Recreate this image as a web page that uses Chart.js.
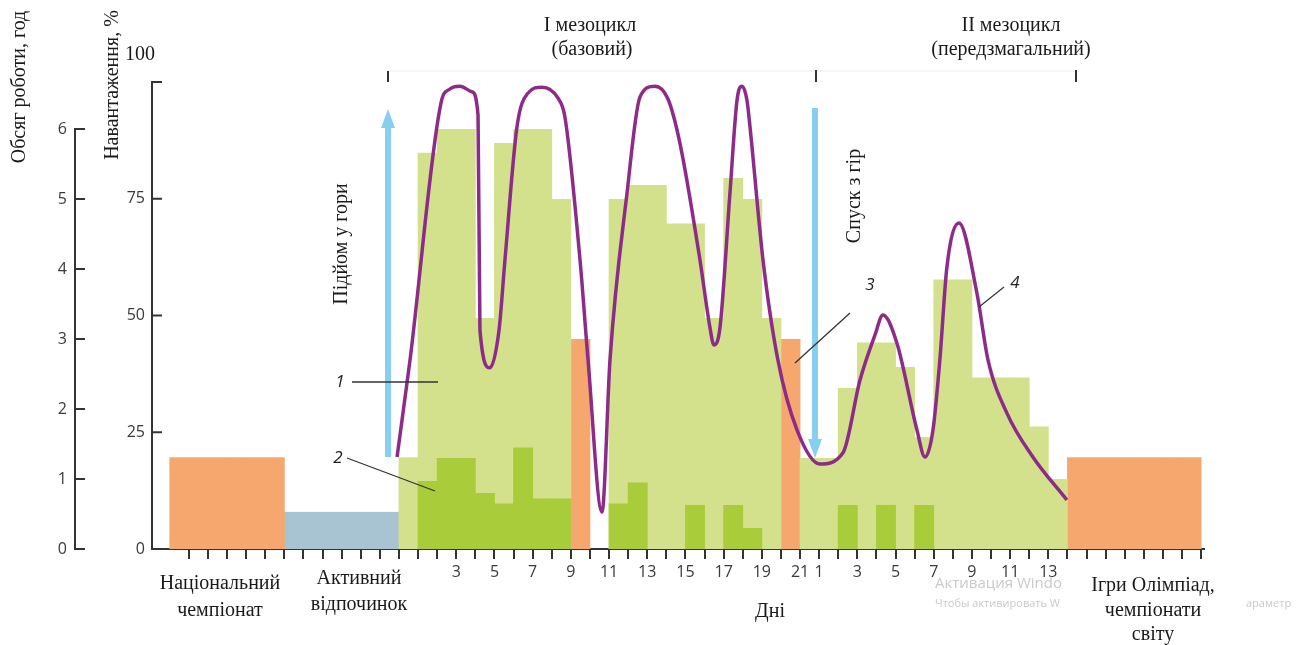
<!DOCTYPE html>
<html lang="uk">
<head>
<meta charset="utf-8">
<title>Мезоцикли підготовки</title>
<script src="https://cdn.jsdelivr.net/npm/chart.js@4.4.1/dist/chart.umd.min.js"></script>
<style>
  html, body { margin: 0; padding: 0; background: #fff; }
  #wrap { position: relative; width: 1307px; height: 645px; }
</style>
</head>
<body>
<div id="wrap"><canvas id="chart"></canvas></div>
<script>
// Slots on the day axis: slot 1..21 = days of mesocycle I, 22..34 = days 1..13 of mesocycle II
// Competitions (orange)
const compDays = [-12, -11, -10, -9, -8, -7, 9, 20, 35, 36, 37, 38, 39, 40, 41];
const compHours = [1.31, 1.31, 1.31, 1.31, 1.31, 1.31, 3.0, 3.0, 1.31, 1.31, 1.31, 1.31, 1.31, 1.31, 1.31];

// Active rest (blue)
const restDays = [-6, -5, -4, -3, -2, -1];
const restHours = [0.53, 0.53, 0.53, 0.53, 0.53, 0.53];

// 1 - total volume of work (light green)
const volumeDays = [0, 1, 2, 3, 4, 5, 6, 7, 8, 11, 12, 13, 14, 15, 16, 17, 18, 19,
  21, 22, 23, 24, 25, 26, 27, 28, 29, 30, 31, 32, 33, 34];
const volumeHours = [1.31, 5.66, 6.0, 6.0, 3.3, 5.8, 6.0, 6.0, 5.0, 5.0, 5.2, 5.2, 4.65, 4.65, 3.3, 5.3, 5.0, 3.3,
  1.3, 1.3, 2.3, 2.95, 2.95, 2.6, 1.6, 3.85, 3.85, 2.45, 2.45, 2.45, 1.75, 1.0];

// 2 - high-intensity work (dark green)
const intenseDays = [1, 2, 3, 4, 5, 6, 7, 8, 11, 12, 15, 17, 18, 23, 25, 27];
const intenseHours = [0.97, 1.3, 1.3, 0.8, 0.65, 1.45, 0.72, 0.72, 0.65, 0.95, 0.63, 0.63, 0.3, 0.63, 0.63, 0.63];

// 4 - load, % (purple curve)
const loadDay = [-0.1, 0.58, 2.2, 2.67, 3.19, 3.82, 4.14, 4.24, 4.76, 5.24, 5.55, 6.18, 6.75, 7.49, 8.32, 8.69,
  9.48, 9.9, 10.63, 11.05, 11.94, 12.62, 13.4, 14.08, 14.71, 15.76, 16.28, 16.49, 16.81, 17.33, 17.7, 17.96,
  18.22, 18.38, 19.06, 19.84, 20.84, 22.04, 23.25, 24.14, 24.92, 25.34, 26.07, 27.12, 27.54, 27.96, 28.32,
  28.69, 29.32, 30.26, 30.84, 31.83, 33.19, 34.97];
const loadPct = [19.7, 40.5, 95.5, 98.5, 99.1, 97.9, 92.9, 46.9, 38.8, 46.9, 61.9, 90.4, 97.6, 98.9, 96.6, 92.5,
  61.9, 40.5, 7.9, 40.5, 76.2, 96.8, 99.1, 96.4, 86.9, 61.9, 47.5, 43.7, 47.5, 76.2, 96.1, 99.1,
  96.1, 90.4, 61.9, 40.5, 25.5, 18.2, 20.6, 36.2, 45.8, 50.1, 44.1, 25.5, 19.7, 25.5, 40.5,
  60.4, 69.8, 54.8, 40.5, 29.1, 19.7, 10.5];

// axis ticks
const hourTicks = [0, 1, 2, 3, 4, 5, 6];
const loadTicks = [0, 25, 50, 75, 100];
const dayTickSlots = [3, 5, 7, 9, 11, 13, 15, 17, 19, 21, 22, 24, 26, 28, 30, 32, 34];
const dayTickText = ['3', '5', '7', '9', '11', '13', '15', '17', '19', '21', '1', '3', '5', '7', '9', '11', '13'];

const toBars = (days, vals) => days.map((d, i) => ({ x: d + 0.5, y: vals[i] }));

const SERIF = '"Liberation Serif", "Times New Roman", serif';
const SANS = '"Open Sans", "Noto Sans", sans-serif';

function text(ctx, str, x, y, font, color, rot) {
  ctx.save();
  ctx.font = font;
  ctx.fillStyle = color || '#1a1a1a';
  ctx.textAlign = 'center';
  ctx.textBaseline = 'middle';
  ctx.translate(x, y);
  if (rot) ctx.rotate(rot);
  ctx.fillText(str, 0, 0);
  ctx.restore();
}

function line(ctx, x1, y1, x2, y2, color, w) {
  ctx.save();
  ctx.strokeStyle = color;
  ctx.lineWidth = w;
  ctx.beginPath();
  ctx.moveTo(x1, y1);
  ctx.lineTo(x2, y2);
  ctx.stroke();
  ctx.restore();
}

function arrow(ctx, x, yFrom, yTo) {
  const dir = yTo < yFrom ? -1 : 1;
  ctx.save();
  ctx.strokeStyle = '#86cfee';
  ctx.fillStyle = '#86cfee';
  ctx.lineWidth = 6;
  ctx.beginPath();
  ctx.moveTo(x, yFrom);
  ctx.lineTo(x, yTo - dir * 16);
  ctx.stroke();
  ctx.beginPath();
  ctx.moveTo(x, yTo);
  ctx.lineTo(x - 7, yTo - dir * 19);
  ctx.lineTo(x + 7, yTo - dir * 19);
  ctx.closePath();
  ctx.fill();
  ctx.restore();
}

// y axis lines and inward tick marks
const axisMarks = {
  id: 'axisMarks',
  afterDraw(chart) {
    const { ctx } = chart;
    const yH = chart.scales.yH;
    const yL = chart.scales.yL;
    const xh = yH.right;
    line(ctx, xh, yH.getPixelForValue(0) + 1, xh, yH.getPixelForValue(6) - 1, '#333', 2);
    hourTicks.forEach(v => {
      const y = yH.getPixelForValue(v);
      line(ctx, xh - 1, y, xh + 10, y, '#333', 2);
    });
    const xl = yL.right;
    loadTicks.forEach(v => {
      const y = yL.getPixelForValue(v);
      line(ctx, xl - 1, y, xl + 10, y, '#333', 2);
    });
  }
};

// texts, arrows and leader lines
const notes = {
  id: 'notes',
  afterDatasetsDraw(chart) {
    const { ctx } = chart;
    const f20 = '20px ' + SERIF;
    text(ctx, 'Обсяг роботи, год', 20, 87, f20, '#1a1a1a', -Math.PI / 2);
    text(ctx, 'Навантаження, %', 113, 85, f20, '#1a1a1a', -Math.PI / 2);
    text(ctx, '100', 140, 55, f20);

    text(ctx, 'I мезоцикл', 590, 26, f20);
    text(ctx, '(базовий)', 592, 50, f20);
    text(ctx, 'II мезоцикл', 1011, 26, f20);
    text(ctx, '(передзмагальний)', 1011, 50, f20);

    line(ctx, 388, 71, 1076, 71, '#eeeeee', 1);
    line(ctx, 388, 71, 388, 82, '#333', 2);
    line(ctx, 816, 70, 816, 82, '#333', 2);
    line(ctx, 1076, 70, 1076, 82, '#333', 2);

    arrow(ctx, 388, 457, 109);
    arrow(ctx, 815, 108, 458);
    text(ctx, 'Підйом у гори', 342, 244, f20, '#1a1a1a', -Math.PI / 2);
    text(ctx, 'Спуск з гір', 855, 196, f20, '#1a1a1a', -Math.PI / 2);

    const fi = 'italic 17px ' + SANS;
    text(ctx, '1', 340, 382, fi, '#222');
    line(ctx, 352, 382, 438, 382, '#333', 1.3);
    text(ctx, '2', 338, 458, fi, '#222');
    line(ctx, 347, 458, 435, 491, '#333', 1.3);
    text(ctx, '3', 870, 285, fi, '#222');
    line(ctx, 850, 313, 795, 363, '#333', 1.3);
    text(ctx, '4', 1015, 283, fi, '#222');
    line(ctx, 1004, 287, 979, 307, '#333', 1.3);

    text(ctx, 'Національний', 220, 584, f20);
    text(ctx, 'чемпіонат', 220, 611, f20);
    text(ctx, 'Активний', 359, 579, f20);
    text(ctx, 'відпочинок', 359, 605, f20);
    text(ctx, 'Дні', 770, 612, f20);

    ctx.save();
    ctx.fillStyle = '#c9c9c9';
    ctx.textBaseline = 'middle';
    ctx.font = '15px ' + SANS;
    ctx.fillText('Активация Windo', 935, 584);
    ctx.font = '11px ' + SANS;
    ctx.fillText('Чтобы активировать W', 935, 604);
    ctx.fillText('араметр', 1246, 604);
    ctx.restore();

    text(ctx, 'Ігри Олімпіад,', 1153, 586, f20);
    text(ctx, 'чемпіонати', 1153, 611, f20);
    text(ctx, 'світу', 1153, 635, f20);
  }
};

const ctx = document.getElementById('chart').getContext('2d');
new Chart(ctx, {
  type: 'bar',
  data: {
    datasets: [
      {
        type: 'line',
        label: 'Навантаження',
        data: loadDay.map((d, i) => ({ x: d, y: loadPct[i] })),
        yAxisID: 'yL',
        borderColor: '#8d2b89',
        borderWidth: 3.5,
        pointRadius: 0,
        cubicInterpolationMode: 'monotone',
        fill: false,
        clip: false,
        order: 0,
      },
      {
        label: 'Інтенсивна робота',
        data: toBars(intenseDays, intenseHours),
        yAxisID: 'yH',
        backgroundColor: '#a8cc3a',
        order: 1,
      },
      {
        label: 'Обсяг роботи',
        data: toBars(volumeDays, volumeHours),
        yAxisID: 'yH',
        backgroundColor: '#d3e18c',
        order: 2,
      },
      {
        label: 'Змагання',
        data: toBars(compDays, compHours),
        yAxisID: 'yH',
        backgroundColor: '#f6a76d',
        order: 3,
      },
      {
        label: 'Активний відпочинок',
        data: toBars(restDays, restHours),
        yAxisID: 'yH',
        backgroundColor: '#a8c4d3',
        order: 3,
      },
    ],
  },
  options: {
    responsive: true,
    maintainAspectRatio: false,
    animation: false,
    events: [],
    layout: { padding: { top: 82, right: 103, bottom: 0, left: 0 } },
    datasets: {
      bar: { grouped: false, barPercentage: 1.04, categoryPercentage: 1, borderWidth: 0 },
    },
    plugins: {
      legend: { display: false },
      tooltip: { enabled: false },
    },
    scales: {
      x: {
        type: 'linear',
        offset: false,
        min: -12.93,
        max: 42.15,
        afterBuildTicks: (scale) => {
          const t = [];
          for (let k = -11; k <= 42; k++) t.push({ value: k });
          scale.ticks = t;
        },
        afterFit: (scale) => { scale.height = 96; },
        grid: { offset: false, drawOnChartArea: false, drawTicks: true, tickLength: 10, color: '#333', lineWidth: 2 },
        border: { display: true, color: '#333', width: 2 },
        ticks: {
          autoSkip: false,
          maxRotation: 0,
          padding: 4,
          color: '#3a3a3a',
          font: { family: SANS, size: 16 },
          callback: (v) => {
            const i = dayTickSlots.indexOf(v);
            return i >= 0 ? dayTickText[i] : '';
          },
        },
      },
      yH: {
        type: 'linear',
        position: 'left',
        weight: 1,
        min: 0,
        max: 6.671,
        afterBuildTicks: (scale) => { scale.ticks = hourTicks.map(v => ({ value: v })); },
        afterFit: (scale) => { scale.width = 75; },
        grid: { display: false, drawTicks: false },
        border: { display: false },
        ticks: { padding: 8, color: '#3a3a3a', font: { family: SANS, size: 16 } },
      },
      yL: {
        type: 'linear',
        position: 'left',
        weight: 0,
        min: 0,
        max: 100,
        afterBuildTicks: (scale) => { scale.ticks = loadTicks.map(v => ({ value: v })); },
        afterFit: (scale) => { scale.width = 77; },
        grid: { display: false, drawTicks: false },
        border: { display: true, color: '#333', width: 2 },
        ticks: {
          padding: 7,
          color: '#3a3a3a',
          font: { family: SANS, size: 16 },
          callback: (v) => (v === 100 ? '' : String(v)),
        },
      },
    },
  },
  plugins: [axisMarks, notes],
});
</script>
</body>
</html>
